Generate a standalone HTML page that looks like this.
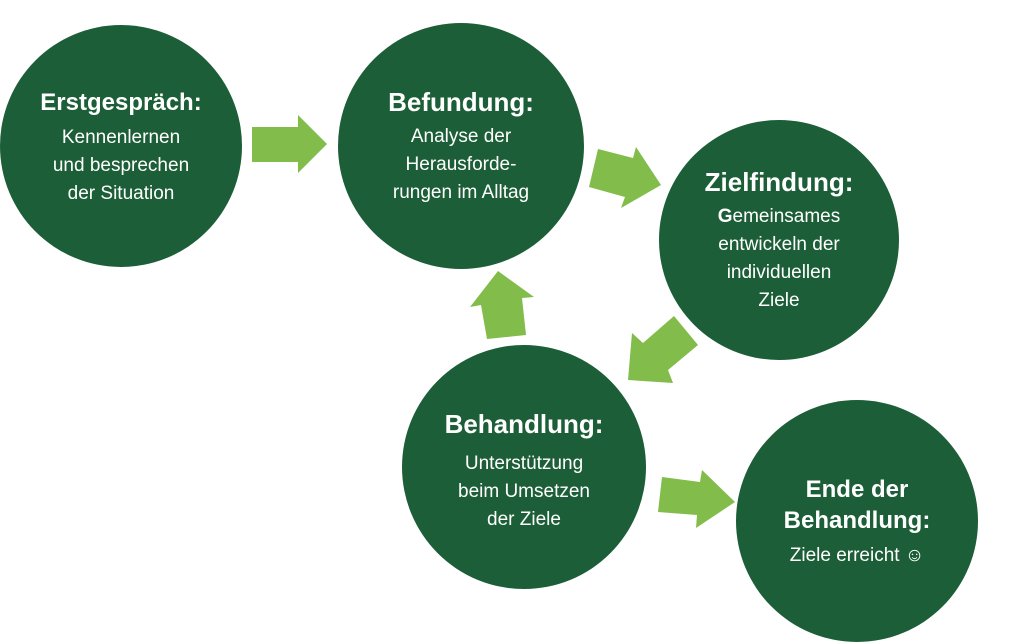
<!DOCTYPE html>
<html><head><meta charset="utf-8"><style>
body{margin:0;width:1024px;height:643px;background:#fff;position:relative;overflow:hidden;font-family:"Liberation Sans",sans-serif;color:#fff}
.t{position:absolute;text-align:center;width:240px;line-height:27px}
.t b{display:block;font-size:24px;margin-bottom:7px;line-height:28px}
.t span{font-size:19px}
</style></head><body>
<svg width="1024" height="643" style="position:absolute;left:0;top:0">
<g fill="#1c5e37">
<circle cx="121" cy="146" r="121"/>
<circle cx="461" cy="146" r="123"/>
<circle cx="779" cy="240" r="120"/>
<circle cx="524" cy="467" r="122"/>
<circle cx="857" cy="521" r="121"/>
</g>
<g fill="#82bc4a">
<polygon points="252,127 298,127 298,115 327,144 298,173 298,162 252,162"/>
<polygon points="598,149 633,158 636,147 661,185 621,208 625,197 589,187"/>
<polygon points="487,339 481,305 470,307 498,271 534,297 522,298 526,335"/>
<polygon points="674,316 698,345 668,370 673,383 628,380 632,333 643,343"/>
<polygon points="662,477 700,482 702,470 735,502 696,528 697,515 658,512"/>
</g>
</svg>
<div class="t" style="left:1px;top:89px"><b>Erstgespräch:</b><span>Kennenlernen<br>und besprechen<br>der Situation</span></div>
<div class="t" style="left:341px;top:88px"><b style="font-size:26px">Befundung:</b><span>Analyse der<br>Herausforde-<br>rungen im Alltag</span></div>
<div class="t" style="left:659px;top:168px"><b style="font-size:26px">Zielfindung:</b><span><strong>G</strong>emeinsames<br>entwickeln der<br>individuellen<br>Ziele</span></div>
<div class="t" style="left:404px;top:410px"><b style="font-size:26px;margin-bottom:12px">Behandlung:</b><span>Unterstützung<br>beim Umsetzen<br>der Ziele</span></div>
<div class="t" style="left:737px;top:474px"><b style="margin-bottom:6px;line-height:31px">Ende der<br>Behandlung:</b><span>Ziele erreicht ☺</span></div>
</body></html>
